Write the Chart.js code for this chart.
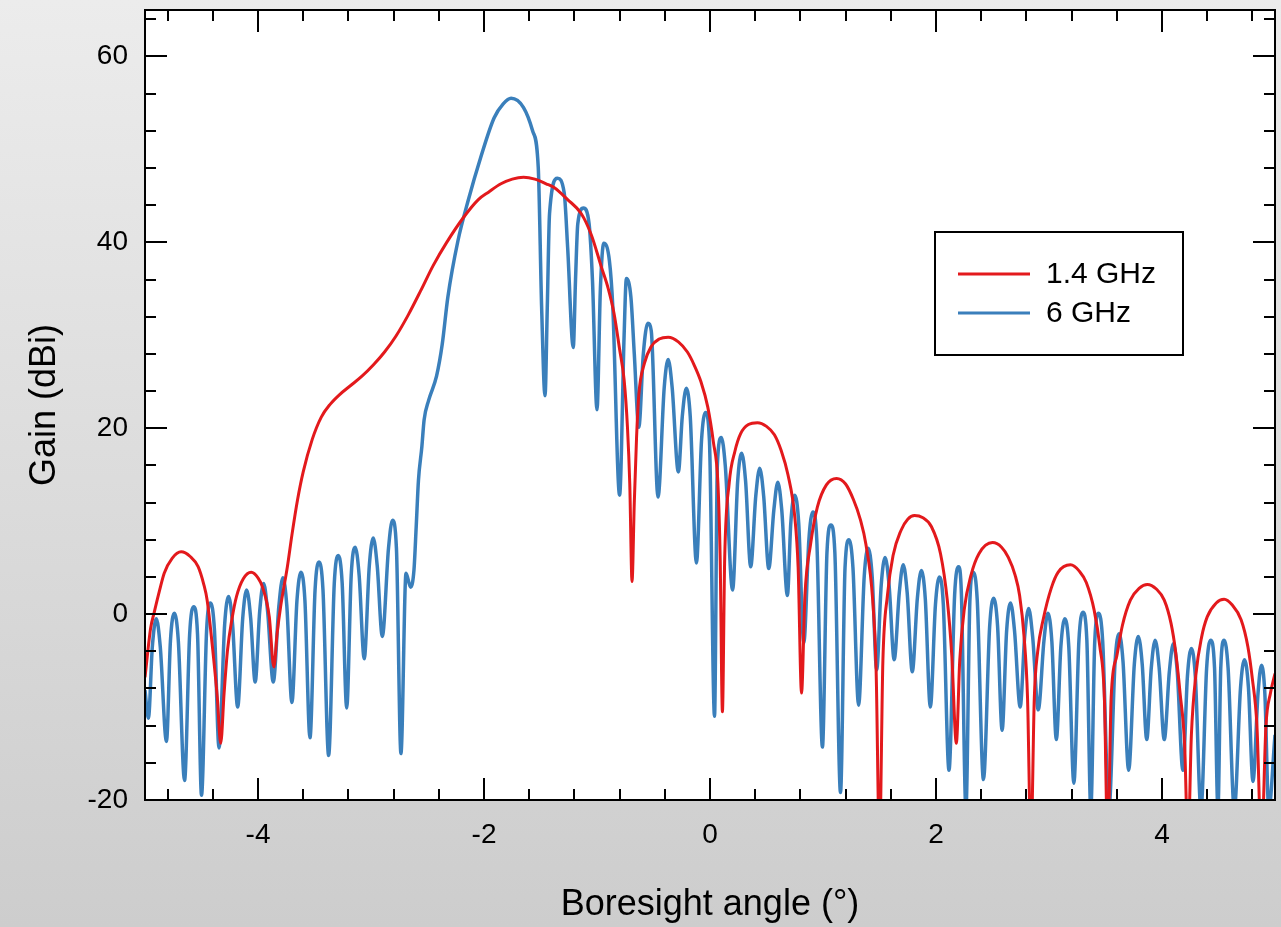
<!DOCTYPE html>
<html>
<head>
<meta charset="utf-8">
<script src="https://cdn.jsdelivr.net/npm/chart.js@4.4.1/dist/chart.umd.min.js"></script>
<style>
    html, body { margin: 0; padding: 0; }
    body { width: 1281px; height: 927px; background: linear-gradient(#ececec, #cdcdcd); overflow: hidden; }
    canvas { display: block; }
</style>
</head>
<body>
<canvas id="gainChart" width="1281" height="927" style="width:1281px;height:927px"></canvas>
<script>
// ==================== Data ====================
const seriesLabels = ['1.4 GHz', '6 GHz'];
const seriesColors = ['#e3191c', '#3a7fbb'];

const xMajorTicks = [-4, -2, 0, 2, 4];
const xMinorTicks = [-4.8, -4.4, -4, -3.6, -3.2, -2.8, -2.4, -2, -1.6, -1.2, -0.8, -0.4, 0,
    0.4, 0.8, 1.2, 1.6, 2, 2.4, 2.8, 3.2, 3.6, 4, 4.4, 4.8];
const yMajorTicks = [-20, 0, 20, 40, 60];
const yMinorTicks = [-16, -12, -8, -4, 0, 4, 8, 12, 16, 20, 24, 28, 32, 36, 40, 44, 48, 52, 56, 60, 64];

// 1.4 GHz
const redAngle = [-5.0, -4.95, -4.92, -4.87, -4.83, -4.76, -4.68, -4.60, -4.53, -4.48, -4.45, -4.40, -4.36, -4.33, -4.30,
    -4.27, -4.23, -4.19, -4.13, -4.06, -4.00, -3.96, -3.90, -3.86, -3.83, -3.80, -3.74, -3.70, -3.65, -3.60,
    -3.52, -3.44, -3.36, -3.28, -3.18, -3.08, -2.98, -2.88, -2.78, -2.67, -2.56, -2.45, -2.33, -2.18, -2.05,
    -1.96, -1.85, -1.75, -1.65, -1.55, -1.45, -1.38, -1.26, -1.14, -1.05, -0.96, -0.90, -0.85, -0.80, -0.76,
    -0.73, -0.71, -0.69, -0.67, -0.65, -0.63, -0.58, -0.52, -0.45, -0.37, -0.28, -0.20, -0.14, -0.08, -0.02,
    0.03, 0.07, 0.09, 0.11, 0.13, 0.17, 0.22, 0.27, 0.34, 0.42, 0.50, 0.57, 0.63, 0.69, 0.75,
    0.78, 0.81, 0.84, 0.89, 0.95, 1.03, 1.12, 1.20, 1.27, 1.33, 1.38, 1.44, 1.47, 1.50, 1.53,
    1.57, 1.62, 1.69, 1.75, 1.81, 1.88, 1.96, 2.04, 2.10, 2.14, 2.18, 2.21, 2.25, 2.31, 2.38,
    2.50, 2.58, 2.64, 2.70, 2.74, 2.78, 2.81, 2.84, 2.87, 2.90, 2.95, 3.02, 3.08, 3.19, 3.27,
    3.33, 3.40, 3.45, 3.49, 3.52, 3.55, 3.60, 3.65, 3.72, 3.80, 3.87, 3.95, 4.02, 4.08, 4.12,
    4.16, 4.20, 4.23, 4.26, 4.30, 4.35, 4.40, 4.48, 4.55, 4.62, 4.70, 4.76, 4.80, 4.84, 4.88,
    4.92, 4.96, 5.0];
const redGain = [-6.8, -1.5, 0.1, 2.6, 4.4, 6.0, 6.7, 6.2, 5.1, 3.2, 1.5, -3.9, -9.0, -13.9, -8.5,
    -3.9, -0.5, 1.9, 3.8, 4.5, 3.9, 2.9, -0.3, -5.7, -2.0, 0.8, 5.1, 8.5, 12.3, 15.3,
    18.8, 21.2, 22.6, 23.6, 24.6, 25.6, 26.8, 28.2, 29.9, 32.2, 34.8, 37.5, 40.0, 42.7, 44.6,
    45.4, 46.3, 46.8, 47.0, 46.8, 46.3, 45.9, 44.6, 43.1, 40.8, 37.3, 35.0, 32.4, 28.5, 25.2,
    20.0, 14.0, 3.5, 12.0, 19.0, 23.6, 27.0, 28.8, 29.6, 29.8, 29.3, 28.2, 26.8, 25.0, 22.3,
    18.5, 14.1, 6.0, -10.5, 6.0, 14.1, 17.5, 19.4, 20.4, 20.6, 20.2, 19.3, 17.6, 15.0, 10.5,
    5.0, -8.5, 2.0, 7.5, 11.5, 13.9, 14.6, 14.0, 12.3, 10.2, 7.5, 1.5, -6.0, -25, -5.0,
    2.0, 6.3, 9.0, 10.2, 10.6, 10.4, 9.4, 6.5, 1.5, -4.5, -13.9, -5.0, 0.5, 4.2, 6.5,
    7.7, 7.2, 6.1, 4.2, 2.0, -2.5, -9.0, -25, -9.0, -4.0, -0.5, 2.8, 4.5, 5.3, 4.6,
    3.4, 0.4, -3.5, -9.0, -25, -9.0, -4.5, -1.2, 1.5, 2.8, 3.2, 2.7, 1.5, -1.0, -4.0,
    -8.5, -14, -25, -13, -6.5, -2.5, -0.3, 1.2, 1.6, 1.0, -0.6, -3.5, -7.0, -12, -25,
    -12, -8.5, -6.4];

// 6 GHz
const blueAngle = [-5.0, -4.97, -4.935, -4.90, -4.865, -4.81, -4.775, -4.74, -4.705, -4.65, -4.605, -4.57, -4.535, -4.50,
    -4.455, -4.42, -4.385, -4.345, -4.295, -4.26, -4.225, -4.18, -4.135, -4.10, -4.065, -4.025, -3.985, -3.95,
    -3.915, -3.865, -3.815, -3.78, -3.745, -3.70, -3.655, -3.62, -3.585, -3.54, -3.495, -3.46, -3.425, -3.375,
    -3.325, -3.29, -3.255, -3.215, -3.175, -3.14, -3.105, -3.06, -3.015, -2.98, -2.945, -2.90, -2.845, -2.81,
    -2.775, -2.735, -2.69, -2.65, -2.62, -2.60, -2.58, -2.55, -2.53, -2.49, -2.42, -2.37, -2.32, -2.23,
    -2.14, -2.03, -1.91, -1.83, -1.76, -1.65, -1.57, -1.52, -1.49, -1.46, -1.44, -1.42, -1.35, -1.29,
    -1.26, -1.21, -1.19, -1.17, -1.12, -1.07, -1.04, -1.00, -0.97, -0.94, -0.89, -0.86, -0.80, -0.76,
    -0.74, -0.70, -0.67, -0.63, -0.59, -0.55, -0.52, -0.46, -0.405, -0.37, -0.335, -0.28, -0.245, -0.21,
    -0.175, -0.12, -0.075, -0.04, -0.005, 0.04, 0.065, 0.10, 0.135, 0.20, 0.245, 0.28, 0.315, 0.36,
    0.405, 0.44, 0.475, 0.52, 0.565, 0.60, 0.635, 0.685, 0.715, 0.75, 0.785, 0.83, 0.875, 0.91,
    0.945, 0.995, 1.035, 1.07, 1.105, 1.155, 1.195, 1.23, 1.265, 1.315, 1.365, 1.40, 1.435, 1.475,
    1.515, 1.55, 1.585, 1.63, 1.675, 1.71, 1.745, 1.79, 1.835, 1.87, 1.905, 1.95, 1.995, 2.03,
    2.065, 2.115, 2.165, 2.20, 2.225, 2.265, 2.30, 2.33, 2.365, 2.42, 2.475, 2.51, 2.545, 2.585,
    2.625, 2.66, 2.695, 2.745, 2.785, 2.82, 2.855, 2.905, 2.955, 2.99, 3.025, 3.065, 3.105, 3.14,
    3.175, 3.22, 3.265, 3.30, 3.335, 3.37, 3.405, 3.44, 3.475, 3.53, 3.585, 3.62, 3.655, 3.705,
    3.755, 3.79, 3.825, 3.865, 3.905, 3.94, 3.975, 4.02, 4.065, 4.10, 4.135, 4.185, 4.225, 4.26,
    4.295, 4.345, 4.395, 4.43, 4.465, 4.495, 4.52, 4.55, 4.585, 4.64, 4.695, 4.73, 4.765, 4.805,
    4.85, 4.88, 4.91, 4.945, 5.0];
const blueGain = [-8.2, -11.2, -3.5, -0.5, -3.5, -13.7, -2.9, 0.1, -2.9, -17.9, -2.2, 0.8, -2.2, -19.5,
    -1.8, 1.2, -1.8, -14.4, -1.1, 1.9, -1.1, -10.0, -0.4, 2.6, -0.4, -7.3, 0.3, 3.3,
    0.3, -7.3, 0.9, 3.9, 0.9, -9.5, 1.5, 4.5, 1.5, -13.3, 2.6, 5.6, 2.6, -15.2,
    3.3, 6.3, 3.3, -10.1, 4.2, 7.2, 4.2, -4.8, 5.2, 8.2, 5.2, -2.4, 7.1, 10.1,
    7.1, -15.0, 4.4, 2.9, 4.7, 9.4, 14.4, 18.0, 20.9, 23.0, 25.6, 29.0, 34.1, 40.2,
    44.5, 49.1, 53.4, 54.9, 55.5, 54.5, 52.0, 48.1, 33.0, 23.5, 33.0, 43.1, 46.9, 45.3,
    39.5, 28.7, 36.0, 42.0, 43.7, 42.0, 35.9, 22.0, 35.0, 39.9, 38.0, 33.0, 12.8, 30.0,
    36.1, 34.1, 28.0, 20.1, 28.0, 31.3, 30.5, 12.6, 24.4, 27.4, 24.4, 15.3, 21.3, 24.3,
    21.3, 5.5, 18.7, 21.7, 18.7, -11.0, 16.0, 19.0, 16.0, 2.6, 14.3, 17.3, 14.3, 5.1,
    12.7, 15.7, 12.7, 4.9, 11.2, 14.2, 11.2, 2.0, 9.8, 12.8, 9.8, -3.1, 8.0, 11.0,
    8.0, -14.3, 6.6, 9.6, 6.6, -19.2, 5.0, 8.0, 5.0, -9.8, 4.1, 7.1, 4.1, -6.0,
    3.1, 6.1, 3.1, -4.9, 2.3, 5.3, 2.3, -6.2, 1.7, 4.7, 1.7, -10.0, 1.0, 4.0,
    1.0, -16.8, 2.1, 5.1, 2.1, -21, 1.5, 4.5, 1.5, -17.8, -1.3, 1.7, -1.3, -12.5,
    -1.8, 1.2, -1.8, -10.0, -2.4, 0.6, -2.4, -10.3, -2.9, 0.1, -2.9, -13.5, -3.5, -0.5,
    -3.5, -18.2, -2.8, 0.2, -2.8, -21, -2.9, 0.1, -2.9, -21, -5.1, -2.1, -5.1, -16.8,
    -5.4, -2.4, -5.4, -13.5, -5.8, -2.8, -5.8, -13.5, -6.2, -3.2, -6.2, -16.8, -6.7, -3.7,
    -6.7, -21, -5.8, -2.8, -5.8, -21, -5.8, -2.8, -5.8, -21, -7.9, -4.9, -7.9, -18.0,
    -8.5, -5.5, -8.5, -21, -13.0];

const toPoints = (xs, ys) => xs.map((x, i) => ({ x, y: ys[i] }));

// ==================== Plugins ====================
const frameTicks = {
    id: 'frameTicks',
    beforeDraw(chart) {
        const { ctx, chartArea: a } = chart;
        ctx.save();
        ctx.fillStyle = '#ffffff';
        ctx.fillRect(a.left, a.top, a.width, a.height);
        ctx.restore();
    },
    afterDatasetsDraw(chart) {
        const { ctx, chartArea: a, scales: { x, y } } = chart;
        ctx.save();
        ctx.strokeStyle = '#000';
        ctx.lineWidth = 2;
        ctx.beginPath();
        xMinorTicks.forEach(v => {
            const px = Math.round(x.getPixelForValue(v));
            const len = xMajorTicks.includes(v) ? 22 : 11;
            ctx.moveTo(px, a.bottom); ctx.lineTo(px, a.bottom - len);
            ctx.moveTo(px, a.top); ctx.lineTo(px, a.top + len);
        });
        yMinorTicks.forEach(v => {
            const py = Math.round(y.getPixelForValue(v));
            const len = yMajorTicks.includes(v) ? 22 : 11;
            ctx.moveTo(a.left, py); ctx.lineTo(a.left + len, py);
            ctx.moveTo(a.right, py); ctx.lineTo(a.right - len, py);
        });
        ctx.stroke();
        ctx.strokeRect(a.left, a.top, a.width, a.height);
        ctx.restore();
    }
};

const boxLegend = {
    id: 'boxLegend',
    afterDraw(chart) {
        const { ctx, chartArea: a } = chart;
        const left = a.left + 790, top = a.top + 222;
        ctx.save();
        ctx.fillStyle = '#fff';
        ctx.fillRect(left, top, 248, 123);
        ctx.strokeStyle = '#000';
        ctx.lineWidth = 2;
        ctx.strokeRect(left, top, 248, 123);
        ctx.font = '30px "Liberation Sans", Arial, sans-serif';
        ctx.textBaseline = 'middle';
        seriesLabels.forEach((label, i) => {
            const rowY = top + 42 + i * 39;
            ctx.strokeStyle = seriesColors[i];
            ctx.lineWidth = 3;
            ctx.beginPath();
            ctx.moveTo(left + 23, rowY);
            ctx.lineTo(left + 95, rowY);
            ctx.stroke();
            ctx.fillStyle = '#000';
            ctx.fillText(label, left + 111, rowY + 1);
        });
        ctx.restore();
    }
};

// ==================== Chart ====================
const fontFamily = '"Liberation Sans", Arial, sans-serif';

new Chart(document.getElementById('gainChart'), {
    type: 'line',
    data: {
        datasets: [
            {
                label: seriesLabels[0],
                data: toPoints(redAngle, redGain),
                borderColor: seriesColors[0],
                borderWidth: 3,
                pointRadius: 0,
                cubicInterpolationMode: 'monotone'
            },
            {
                label: seriesLabels[1],
                data: toPoints(blueAngle, blueGain),
                borderColor: seriesColors[1],
                borderWidth: 3.5,
                pointRadius: 0,
                cubicInterpolationMode: 'monotone'
            }
        ]
    },
    options: {
        responsive: false,
        animation: false,
        devicePixelRatio: 1,
        layout: { padding: { top: 10, right: 6, left: 0, bottom: 0 } },
        plugins: {
            legend: { display: false },
            tooltip: { enabled: false }
        },
        scales: {
            x: {
                type: 'linear',
                min: -5,
                max: 5,
                afterBuildTicks: axis => { axis.ticks = xMajorTicks.map(v => ({ value: v })); },
                afterFit: scale => { scale.height = 127; },
                grid: { display: false, drawTicks: false },
                border: { display: false },
                ticks: {
                    color: '#000',
                    padding: 18,
                    maxRotation: 0,
                    font: { family: fontFamily, size: 28 }
                },
                title: {
                    display: true,
                    text: 'Boresight angle (°)',
                    color: '#000',
                    padding: { top: 0, bottom: 0 },
                    font: { family: fontFamily, size: 36 }
                }
            },
            y: {
                type: 'linear',
                min: -20,
                max: 65,
                afterBuildTicks: axis => { axis.ticks = yMajorTicks.map(v => ({ value: v })); },
                afterFit: scale => {
                    scale.width = 145;
                    scale.paddingTop = 0;
                    scale.paddingBottom = 0;
                },
                grid: { display: false, drawTicks: false },
                border: { display: false },
                ticks: {
                    color: '#000',
                    padding: 17,
                    font: { family: fontFamily, size: 28 }
                },
                title: {
                    display: true,
                    text: 'Gain (dBi)',
                    color: '#000',
                    padding: { top: 23, bottom: 4 },
                    font: { family: fontFamily, size: 36 }
                }
            }
        }
    },
    plugins: [frameTicks, boxLegend]
});
</script>
</body>
</html>
